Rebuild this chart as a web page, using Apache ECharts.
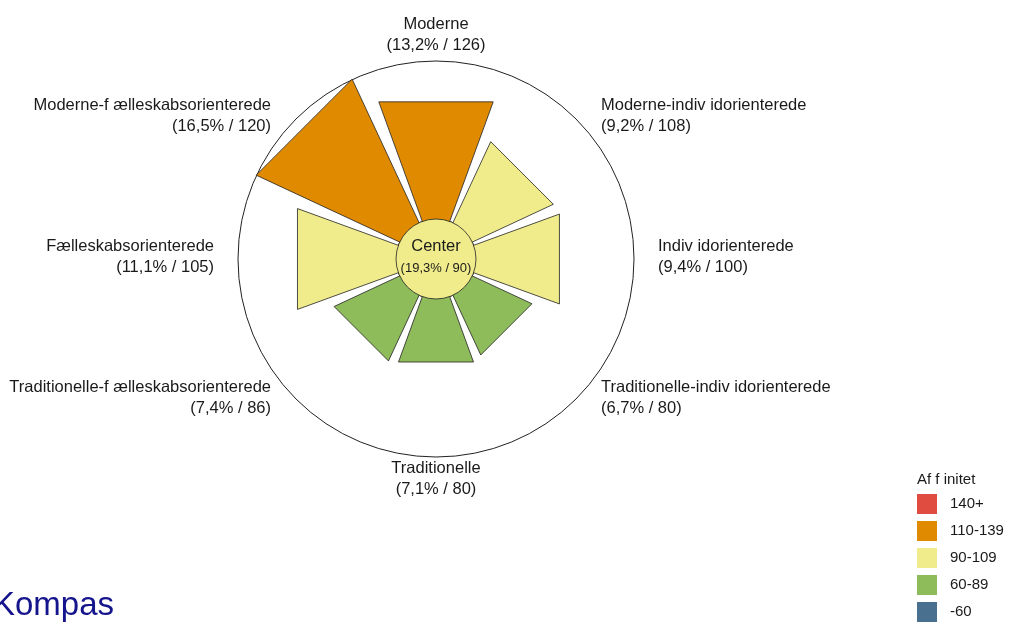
<!DOCTYPE html>
<html>
<head>
<meta charset="utf-8">
<title>Kompas</title>
<script src="https://cdn.jsdelivr.net/npm/echarts@6/dist/echarts.min.js"></script>
<style>
  html, body { margin: 0; padding: 0; background: #fff; }
  #chart { width: 1011px; height: 623px; }
</style>
</head>
<body>
<div id="chart"></div>
<script>
// segments clockwise from the top
const sectors = [
  'Moderne',
  'Moderne-indiv idorienterede',
  'Indiv idorienterede',
  'Traditionelle-indiv idorienterede',
  'Traditionelle',
  'Traditionelle-f ælleskabsorienterede',
  'Fælleskabsorienterede',
  'Moderne-f ælleskabsorienterede'
];
const shares = [13.2, 9.2, 9.4, 6.7, 7.1, 7.4, 11.1, 16.5];
const affinity = [126, 108, 100, 80, 80, 86, 105, 120];

const centerName = 'Center';
const centerShare = 19.3;
const centerAffinity = 90;

const pieceLabels = ['140+', '110-139', '90-109', '60-89', '-60'];
const pieceColors = ['#e04c40', '#e08a00', '#f0ec8c', '#8fbc5a', '#4a7090'];

const FONT = '"Liberation Sans", Arial, sans-serif';
const fmt = v => v.toFixed(1).replace('.', ',');

const chart = echarts.init(document.getElementById('chart'));

function renderWedge(params, api) {
  const cs = params.coordSys;
  const cx = cs.cx, cy = cs.cy;
  const i = params.dataIndex;
  const p = api.coord([api.value(0), api.value(1)]);
  const dx = p[0] - cx, dy = p[1] - cy;
  const len = Math.hypot(dx, dy);
  const a = Math.atan2(dy, dx);
  const half = 20 * Math.PI / 180;
  const d = len / Math.cos(half);
  const pts = [
    [cx, cy],
    [cx + d * Math.cos(a - half), cy + d * Math.sin(a - half)],
    [cx + d * Math.cos(a + half), cy + d * Math.sin(a + half)]
  ];

  // label spot outside the ring
  const ux = dx / len, uy = dy / len;
  let lx, ly;
  if (Math.abs(ux) > 0.3 && Math.abs(uy) > 0.3) {
    lx = Math.sign(ux) * 165;
    ly = Math.sign(uy) * 141;
  } else {
    lx = ux * 222;
    ly = uy * 222;
  }
  const align = lx < -1 ? 'right' : (lx > 1 ? 'left' : 'center');

  return {
    type: 'group',
    children: [
      {
        type: 'polygon',
        shape: { points: pts },
        style: { fill: api.visual('color'), stroke: '#222', lineWidth: 0.8 }
      },
      {
        type: 'text',
        style: {
          text: sectors[i] + '\n(' + fmt(shares[i]) + '% / ' + affinity[i] + ')',
          x: cx + lx,
          y: cy + ly - 2,
          align: align,
          verticalAlign: 'middle',
          font: '16.5px ' + FONT,
          lineHeight: 21,
          fill: '#1a1a1a'
        }
      }
    ]
  };
}

function renderCenter(params, api) {
  const cs = params.coordSys;
  return {
    type: 'group',
    children: [
      {
        type: 'circle',
        shape: { cx: cs.cx, cy: cs.cy, r: cs.r0 },
        style: { fill: api.visual('color'), stroke: '#222', lineWidth: 0.8 }
      },
      {
        type: 'text',
        style: {
          text: '{a|' + centerName + '}\n{b|(' + fmt(centerShare) + '% / ' + centerAffinity + ')}',
          x: cs.cx,
          y: cs.cy - 3,
          align: 'center',
          verticalAlign: 'middle',
          rich: {
            a: { fontSize: 16.5, fontFamily: FONT, lineHeight: 24, fill: '#1a1a1a', align: 'center' },
            b: { fontSize: 13, fontFamily: FONT, lineHeight: 20, fill: '#1a1a1a', align: 'center' }
          }
        }
      }
    ]
  };
}

const option = {
  animation: false,
  backgroundColor: '#fff',
  title: {
    text: 'Kompas',
    left: -7,
    top: 589,
    padding: 0,
    textStyle: { fontSize: 33, fontWeight: 'normal', color: '#14148c', fontFamily: FONT }
  },
  polar: {
    center: [436, 259],
    radius: [40, 198]
  },
  angleAxis: {
    type: 'category',
    data: sectors,
    startAngle: 112.5,
    axisLine: { show: true, lineStyle: { color: '#222', width: 1 } },
    axisTick: { show: false },
    axisLabel: { show: false },
    splitLine: { show: false }
  },
  radiusAxis: {
    type: 'value',
    min: 0,
    max: 17.8,
    show: false
  },
  visualMap: {
    type: 'piecewise',
    dimension: 2,
    seriesIndex: [0, 1],
    orient: 'vertical',
    left: 902,
    top: 457,
    itemWidth: 20,
    itemHeight: 20,
    itemGap: 7,
    textGap: 13,
    itemSymbol: 'rect',
    showLabel: true,
    align: 'left',
    text: ['Af f initet', ''],
    selectedMode: false,
    hoverLink: false,
    textStyle: { fontSize: 15, color: '#1a1a1a', fontFamily: FONT },
    pieces: [
      { min: 140, label: pieceLabels[0], color: pieceColors[0] },
      { min: 110, max: 139, label: pieceLabels[1], color: pieceColors[1] },
      { min: 90, max: 109, label: pieceLabels[2], color: pieceColors[2] },
      { min: 60, max: 89, label: pieceLabels[3], color: pieceColors[3] },
      { max: 59, label: pieceLabels[4], color: pieceColors[4] }
    ]
  },
  series: [
    {
      type: 'custom',
      coordinateSystem: 'polar',
      clip: false,
      encode: { radius: 0, angle: 1 },
      renderItem: renderWedge,
      data: shares.map((s, i) => [s, i, affinity[i]])
    },
    {
      type: 'custom',
      coordinateSystem: 'polar',
      clip: false,
      encode: { radius: 0, angle: 1 },
      renderItem: renderCenter,
      data: [[centerShare, 0, centerAffinity]]
    }
  ]
};

chart.setOption(option);
</script>
</body>
</html>
